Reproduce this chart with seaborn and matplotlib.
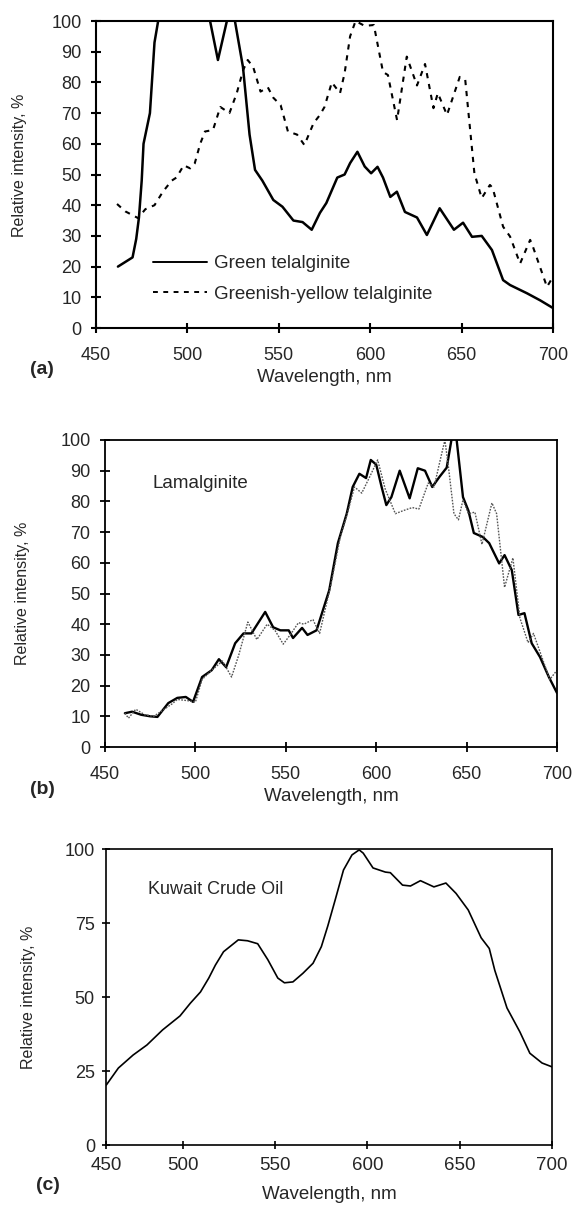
import numpy as np
import pandas as pd
import matplotlib
matplotlib.use("Agg")
import matplotlib.pyplot as plt
import seaborn as sns

# ---------------- data ----------------
# (a) Green telalginite (solid)
a_green_x = [462, 466, 470, 472, 473.5, 475, 476, 479.5, 482, 484, 490, 500, 508, 512.4, 516.7,
             521.6, 523.5, 526, 530.4, 534, 537, 541, 547, 552, 558, 563, 568, 572.5, 576, 582,
             586, 589, 593, 597, 600.5, 604, 607, 611, 614.6, 619, 625.6, 631, 638, 645.8,
             650.8, 655.7, 661, 666.6, 672.7, 676.5, 685.8, 693, 700]
a_green_y = [20, 21.5, 23, 29, 36, 48, 60, 70, 93, 100, 115, 118, 108, 100, 87.3,
             100, 102, 100, 85, 63, 51.5, 48, 41.7, 39.5, 35, 34.5, 32, 37.5, 40.7, 49,
             50, 53.7, 57.4, 52.6, 50.4, 52.5, 49, 42.7, 44.4, 37.8, 36, 30.3, 39, 32,
             34.3, 29.7, 30, 25.4, 15.6, 14, 11.3, 9, 6.5]

# (a) Greenish-yellow telalginite (dashed)
a_gy_x = [461.5, 466, 473, 477, 482, 486.6, 491.4, 494, 498, 501.5, 504, 507, 509.6, 514, 518,
          523, 527, 530.5, 533, 536, 540, 544, 547, 551, 555, 560, 564, 569, 572.5, 575, 579,
          583.5, 586, 589, 592, 597, 602, 607, 609.7, 614.7, 620, 625.6, 630, 634.6, 637, 642,
          649, 652, 657, 661, 665.5, 667, 672.7, 676.5, 682, 687.5, 689, 696.7, 700]
a_gy_y = [40.4, 38, 35.8, 38.7, 40, 44.4, 48, 49, 53, 52, 53.6, 60, 64, 64.5, 72,
          70, 76.5, 84, 87.3, 85, 77, 78.4, 75, 72.6, 64, 63, 59.6, 66.7, 69.4, 72, 80,
          76.5, 83, 95, 100, 98.4, 98.7, 83.4, 82.4, 67.7, 88.4, 79, 86, 71.6, 76.5, 69.4,
          81.8, 80.8, 50.4, 42.3, 46.6, 45.6, 33, 29.8, 21, 28.7, 26.5, 13.4, 16.7]

# (b) Lamalginite, solid
b_solid_x = [461, 465, 470, 475, 479, 485, 490, 494.7, 498.7, 503.7, 509, 513, 517, 522, 526.6,
             531, 538.6, 543, 547, 551.6, 554, 559, 562, 567, 574, 578.8, 583.7, 587, 590.7,
             594.4, 597, 600, 603, 605.6, 608.4, 613, 618.5, 623, 627, 631, 635, 639, 641.6,
             643, 644.5, 648, 651, 654, 659, 662.5, 668, 671, 675, 678.7, 682, 686, 690.6,
             695.5, 700]
b_solid_y = [11, 11.5, 10.5, 10, 9.8, 14.3, 16, 16.3, 14.7, 22.8, 25, 28.6, 26, 33.8, 37,
             37, 44, 39, 38, 38, 35.5, 38.8, 36.5, 38, 51, 66.4, 76, 84.7, 89,
             87.6, 93.5, 92, 84.7, 78.8, 81.4, 90, 81, 90.8, 90, 84.7, 88, 91, 100,
             103, 100, 81.4, 77, 69.7, 68.4, 66.4, 59.8, 62.5, 57.6, 43, 43.6, 33.8, 29.3,
             22.8, 17.6]

# (b) Lamalginite, dotted
b_dot_x = [461, 463, 467, 472, 477, 482, 487, 490, 497, 500, 503.7, 509, 515, 520, 524, 529,
           534, 539.7, 544, 548.6, 553, 557, 560, 565, 568.7, 575, 580, 584, 588, 592, 596.4,
           600.8, 605, 610.6, 615, 620, 623.6, 628.8, 632, 636, 638, 640, 643, 645.5, 648, 651,
           654.6, 658.5, 664, 666.6, 671, 675.6, 679.5, 684, 687, 690.6, 696, 700]
b_dot_y = [11, 9.4, 12.3, 10.5, 10, 12, 14, 15.5, 15, 14.6, 22, 25, 28, 22.8, 30, 40.7,
           35, 40, 38, 33.5, 37, 40.5, 40, 41.5, 37, 53, 68, 76, 84.7, 82.7, 88,
           93.5, 84, 76, 77, 78, 77.5, 86, 84.7, 95, 100, 91, 76, 74, 80.5, 76,
           76.5, 66, 79.5, 76, 52, 61.6, 42, 34, 37, 31, 22, 25]

# (c) Kuwait crude oil
c_x = [458.5, 465, 473, 480.5, 489, 498.4, 504, 509.5, 514, 517.6, 522, 530, 535, 540.5, 546,
       551.4, 555, 559.6, 565, 570.5, 575, 578.5, 582.5, 587, 591.6, 595.5, 597.7, 603, 609.7,
       612.4, 619, 623.3, 628.7, 636, 642.5, 648, 654.6, 661.6, 666, 669, 675.6, 682.6, 688,
       694.6, 700]
c_y = [20.3, 26, 30.4, 33.8, 38.9, 43.6, 47.9, 51.7, 56.4, 60.8, 65.3, 69.3, 69, 68, 62.6,
       56.4, 54.8, 55.1, 58, 61.4, 67, 74, 82.8, 92.9, 98, 99.7, 98.6, 93.6, 92.2,
       92, 87.8, 87.5, 89.3, 87.2, 88.5, 85, 79.4, 70, 66.4, 59, 46.3, 38.2, 31,
       27.7, 26.4]

ab_xticks = [450, 500, 550, 600, 650, 700]
ab_yticks = [0, 10, 20, 30, 40, 50, 60, 70, 80, 90, 100]
c_xtick_labels = ["450", "500", "550", "600", "650", "700"]
c_yticks = [0, 25, 50, 75, 100]

# ---------------- style ----------------
sns.set_style("white")
plt.rcParams['font.family'] = ['Liberation Sans', 'DejaVu Sans']
plt.rcParams['font.size'] = 13

W, H = 573, 1208
fig = plt.figure(figsize=(W / 100, H / 100), dpi=100)

TICK_FS = 13
XLAB_FS = 13.5
YLAB_FS = 11.5
TXT_FS = 13.5
PANEL_FS = 14


def px_axes(l, r, t, b):
    return fig.add_axes([l / W, 1 - b / H, (r - l) / W, (b - t) / H])


def style_axes(ax, lw, ticklen, xpad, ypad):
    for s in ax.spines.values():
        s.set_visible(True)
        s.set_linewidth(lw)
        s.set_color('black')
    ax.tick_params(axis='both', which='major', direction='inout', length=ticklen,
                   width=lw, color='black', labelsize=TICK_FS, bottom=True, left=True,
                   top=False, right=False)
    ax.tick_params(axis='x', pad=xpad)
    ax.tick_params(axis='y', pad=ypad)


# ---- (a) ----
ax1 = px_axes(96, 553, 21, 328)
sns.lineplot(x=a_green_x, y=a_green_y, ax=ax1, color='black', lw=1.8,
             label='Green telalginite', estimator=None)
sns.lineplot(x=a_gy_x, y=a_gy_y, ax=ax1, color='black', lw=1.5,
             label='Greenish-yellow telalginite', estimator=None)
ax1.lines[-1].set_dashes([2.5, 2.8])
ax1.set_xlim(450, 700)
ax1.set_ylim(0, 100)
ax1.set_xticks(ab_xticks)
ax1.set_yticks(ab_yticks)
style_axes(ax1, 1.5, 7, 10, 7)
ax1.set_xlabel('Wavelength, nm', fontsize=XLAB_FS)
ax1.set_ylabel('Relative intensity, %', fontsize=YLAB_FS)
ax1.xaxis.set_label_coords(0.5, (328 - 369) / 307)
ax1.yaxis.set_label_coords((27 - 96) / 457, (328 - 165) / 307)
leg = ax1.legend(loc='upper left', bbox_to_anchor=((153 - 96) / 457, (328 - 255) / 307),
                 frameon=False, fontsize=TXT_FS, handlelength=2.9, handletextpad=0.35,
                 labelspacing=0.72, borderpad=0, borderaxespad=0)
for h in leg.get_lines():
    h.set_linewidth(1.4)
leg.get_lines()[1].set_dashes([2.5, 2.8])
fig.text(42 / W, 1 - 370 / H, '(a)', fontsize=PANEL_FS, fontweight='bold', ha='center', va='center')

# ---- (b) ----
ax2 = px_axes(105, 557, 440, 747)
sns.lineplot(x=b_solid_x, y=b_solid_y, ax=ax2, color='black', lw=1.7, estimator=None)
sns.lineplot(x=b_dot_x, y=b_dot_y, ax=ax2, color='#555555', lw=1.0, estimator=None)
ax2.lines[-1].set_dashes([1.2, 1.0])
ax2.set_xlim(450, 700)
ax2.set_ylim(0, 100)
ax2.set_xticks(ab_xticks)
ax2.set_yticks(ab_yticks)
style_axes(ax2, 1.3, 7, 10, 7)
ax2.set_xlabel('Wavelength, nm', fontsize=XLAB_FS)
ax2.set_ylabel('Relative intensity, %', fontsize=YLAB_FS)
ax2.xaxis.set_label_coords(0.5, (747 - 788) / 307)
ax2.yaxis.set_label_coords((30 - 105) / 452, 0.5)
ax2.text((153 - 105) / 452, (747 - 483) / 307, 'Lamalginite', transform=ax2.transAxes,
         fontsize=TXT_FS, ha='left', va='center')
fig.text(42 / W, 1 - 790 / H, '(b)', fontsize=PANEL_FS, fontweight='bold', ha='center', va='center')

# ---- (c) ----
ax3 = px_axes(106, 552, 849, 1145)
sns.lineplot(x=c_x, y=c_y, ax=ax3, color='black', lw=1.2, estimator=None)
c_left = 458.3
ax3.set_xlim(c_left, 700)
ax3.set_ylim(0, 100)
ax3.set_xticks([c_left, 500, 550, 600, 650, 700], labels=c_xtick_labels)
ax3.set_yticks(c_yticks)
style_axes(ax3, 1.2, 6, 6, 5)
ax3.tick_params(axis='x', labelsize=13.5)
ax3.set_xlabel('Wavelength, nm', fontsize=XLAB_FS)
ax3.set_ylabel('Relative intensity, %', fontsize=YLAB_FS)
ax3.xaxis.set_label_coords(0.5, (1145 - 1186) / 296)
ax3.yaxis.set_label_coords((36 - 106) / 446, 0.5)
ax3.text((148 - 106) / 446, (1145 - 890) / 296, 'Kuwait Crude Oil', transform=ax3.transAxes,
         fontsize=13, ha='left', va='center')
fig.text(48 / W, 1 - 1185 / H, '(c)', fontsize=PANEL_FS, fontweight='bold', ha='center', va='center')

fig.savefig('out.png', dpi=100)
